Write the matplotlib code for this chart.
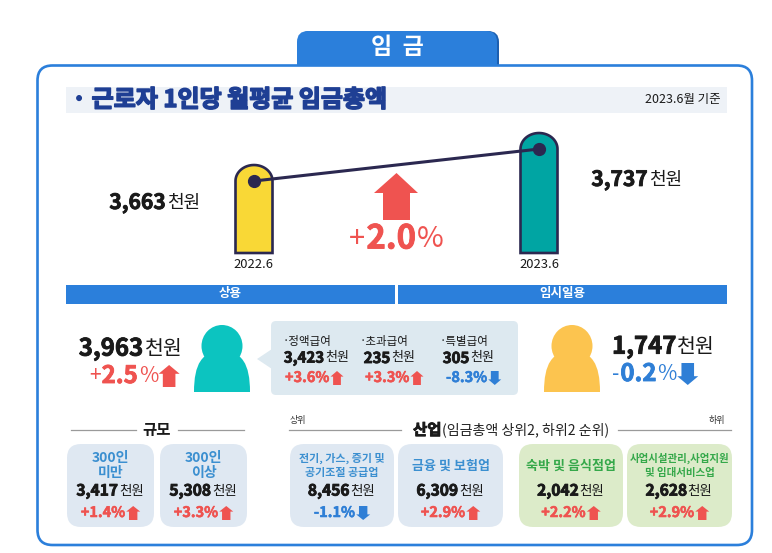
import matplotlib
matplotlib.use("Agg")
import matplotlib.pyplot as plt
import matplotlib.patheffects as pe
import numpy as np
from matplotlib.patches import FancyBboxPatch, Rectangle, Ellipse, Polygon, PathPatch
from matplotlib.path import Path

plt.rcParams['font.family'] = ['Noto Sans CJK KR', 'DejaVu Sans']

# values
years = ["2022.6", "2023.6"]
total_wage = [3663, 3737]
total_change = 2.0

regular_wage = 3963
regular_change = 2.5
temp_wage = 1747
temp_change = -0.2

pay_names = ["정액급여", "초과급여", "특별급여"]
pay_values = [3423, 235, 305]
pay_changes = [3.6, 3.3, -8.3]

card_titles = [["300인", "미만"], ["300인", "이상"],
               ["전기, 가스, 증기 및", "공기조절 공급업"], ["금융 및 보험업"],
               ["숙박 및 음식점업"], ["사업시설관리,사업지원", "및 임대서비스업"]]
card_values = [3417, 5308, 8456, 6309, 2042, 2628]
card_changes = [1.4, 3.3, -1.1, 2.9, 2.2, 2.9]

BLUE = "#2b7fdb"
NAVY = "#1f3f94"
RED = "#ef5350"
DOWN = "#2f7fd6"
DARK = "#2b2850"
INK = "#1a1a1a"
W, H = 772, 553

fig = plt.figure(figsize=(W / 100, H / 100), dpi=100)
ax = fig.add_axes([0, 0, 1, 1])
ax.set_xlim(0, W)
ax.set_ylim(H, 0)
ax.axis("off")
renderer = fig.canvas.get_renderer()


def px(size):
    # font size given in pixels
    return size * 0.72


def heavy(t, color, width=0.6):
    # thicken bold text, the original uses a black weight
    t.set_path_effects([pe.withStroke(linewidth=width, foreground=color)])


def rich(x, y, parts, ha="left"):
    # text pieces in a row: (string, pixel size, bold, colour)
    items = []
    total = 0
    for s, size, bold, color in parts:
        t = ax.text(0, y, s, fontsize=px(size), color=color, va="center", ha="left",
                    fontweight="bold" if bold else "normal")
        w = t.get_window_extent(renderer).width + 1
        if bold:
            heavy(t, color)
        items.append((t, w))
        total += w
    if ha == "center":
        x -= total / 2
    elif ha == "right":
        x -= total
    for t, w in items:
        t.set_x(x)
        x += w
    return x


def box(x0, y0, x1, y1, r, **kw):
    p = FancyBboxPatch((x0, y0), x1 - x0, y1 - y0,
                       boxstyle="round,pad=0,rounding_size=%s" % r, **kw)
    ax.add_patch(p)


def arrow(x, y, w, h, color, up=True):
    # block arrow centred on x,y
    s = -1 if up else 1
    hw = w / 2
    sw = w * 0.3
    neck = h * 0.1
    pts = [(x, y + s * h / 2), (x + hw, y + s * neck), (x + sw, y + s * neck),
           (x + sw, y - s * h / 2), (x - sw, y - s * h / 2), (x - sw, y + s * neck),
           (x - hw, y + s * neck)]
    ax.add_patch(Polygon(pts, closed=True, fc=color, ec="none"))


def person(cx, top, bottom, color):
    ax.add_patch(Ellipse((cx, top + 21), 41, 42, fc=color, ec="none"))
    hw = 28
    verts = [(cx - hw, bottom), (cx - hw, bottom - 28), (cx - 20, bottom - 41), (cx, bottom - 41),
             (cx + 20, bottom - 41), (cx + hw, bottom - 28), (cx + hw, bottom), (cx - hw, bottom)]
    codes = [Path.MOVETO, Path.CURVE4, Path.CURVE4, Path.CURVE4,
             Path.CURVE4, Path.CURVE4, Path.CURVE4, Path.CLOSEPOLY]
    ax.add_patch(PathPatch(Path(verts, codes), fc=color, ec="none"))


def change_row(x, y, val, size, aw, ah, ha="center", gap=1):
    # bold percentage followed by its arrow
    color = RED if val > 0 else DOWN
    s = "%+.1f%%" % val
    t = ax.text(0, y, s, fontsize=px(size), fontweight="bold", color=color, va="center")
    heavy(t, color, 0.4)
    w = t.get_window_extent(renderer).width
    left = x - (w + aw + gap) / 2 if ha == "center" else x
    t.set_x(left)
    arrow(left + w + gap + aw / 2, y, aw, ah, color, up=val > 0)


# header tab and frame
box(299, 31, 499, 80, 11, fc="#1c5fb0", ec="none")
box(297, 31, 497, 80, 11, fc=BLUE, ec="none")
box(37.5, 65.5, 752, 545, 15, fc="white", ec=BLUE, lw=1.9)
ax.text(397, 47, "임  금", fontsize=px(23), fontweight="bold", color="white", ha="center", va="center")

# title band
ax.add_patch(Rectangle((66, 87), 661, 26, fc="#eef2f7", ec="none"))
title = ax.text(72, 100, "· 근로자 1인당 월평균 임금총액", fontsize=px(24), fontweight="bold",
                color=NAVY, va="center")
heavy(title, NAVY, 1.1)
ax.text(721, 100, "2023.6월 기준", fontsize=px(12.5), color=INK, va="center", ha="right")

# bar chart: axes with cut-off value scale, 32 px for the 74 difference
floor = 3496.5
top_val = 3781.0
chart = fig.add_axes([200 / W, 1 - 253 / H, 400 / W, 123 / H])
chart.patch.set_alpha(0)
chart.axis("off")
chart.set_xlim((200 - 254) / 285, (600 - 254) / 285)
chart.set_ylim(floor, top_val)
x_per_px = 1 / 285
y_per_px = (top_val - floor) / 123
t = np.linspace(np.pi, 0, 40)
bar_colors = ["#f9d836", "#00a5a3"]
for i, v in enumerate(total_wage):
    xs = i + 18.5 * x_per_px * np.cos(t)
    ys = v + 16 * y_per_px * np.sin(t)
    xs = np.r_[i - 18.5 * x_per_px, xs, i + 18.5 * x_per_px]
    ys = np.r_[floor, ys, floor]
    chart.fill(xs, ys, fc=bar_colors[i], ec=DARK, lw=1.9, clip_on=False, joinstyle="miter")
chart.plot(range(len(total_wage)), total_wage, color=DARK, lw=2.2, marker="o", ms=8.5,
           mfc=DARK, mec=DARK, clip_on=False)

for i, x in enumerate([253, 539]):
    ax.text(x, 264, years[i], fontsize=px(13), color=INK, ha="center", va="center")
rich(155, 203, [("{:,}".format(total_wage[0]), 21, True, INK), ("천원", 18, False, INK)], ha="center")
rich(637, 180, [("{:,}".format(total_wage[1]), 21, True, INK), ("천원", 18, False, INK)], ha="center")

ax.add_patch(Polygon([(396.5, 173), (418, 193), (410, 193), (410, 220), (383, 220), (383, 193), (374, 193)],
                     closed=True, fc=RED, ec="none"))
rich(397, 239, [("+", 29, False, RED), ("%.1f" % total_change, 33, True, RED), ("%", 29, False, RED)], ha="center")

# section bands
ax.add_patch(Rectangle((66, 285), 329, 19, fc=BLUE, ec="none"))
ax.add_patch(Rectangle((398, 285), 329, 19, fc=BLUE, ec="none"))
ax.text(230, 294, "상용", fontsize=px(12.5), fontweight="bold", color="white", ha="center", va="center")
ax.text(562, 294, "임시일용", fontsize=px(12.5), fontweight="bold", color="white", ha="center", va="center")

# regular workers
rich(131, 349, [("{:,}".format(regular_wage), 24, True, INK), ("천원", 20.5, False, INK)], ha="center")
end = rich(89, 376, [("+", 21, False, RED), ("%.1f" % regular_change, 24, True, RED), ("%", 21, False, RED)])
arrow(end + 10, 376, 21, 22, RED)
person(222, 325, 392, "#0cc4c0")

# callout with pay parts
box(271, 321, 518, 395, 5, fc="#dde9f0", ec="none")
ax.add_patch(Polygon([(272, 349), (257, 359), (272, 369)], closed=True, fc="#dde9f0", ec="none"))
pay_label_x = [283, 360, 440]
pay_center_x = [317, 390, 469]
pay_pct_x = [285, 365, 446]
for i in range(3):
    ax.text(pay_label_x[i], 341, "·" + pay_names[i], fontsize=px(11.5), color=INK, va="center")
    rich(pay_center_x[i], 358, [("{:,}".format(pay_values[i]), 15, True, INK), ("천원", 13, False, INK)], ha="center")
    change_row(pay_pct_x[i], 378, pay_changes[i], 14.5, 13, 14, ha="left")

# temporary workers
person(572, 325, 392, "#fcc44f")
rich(612, 347, [("{:,}".format(temp_wage), 24, True, INK), ("천원", 20.5, False, INK)])
end = rich(612, 374, [("-", 21, False, DOWN), ("%.1f" % abs(temp_change), 24, True, DOWN), ("%", 21, False, DOWN)])
arrow(end + 10, 374, 21, 22, DOWN, up=False)

# group headings
line_col = "#9a9a9a"
for x0, x1 in [(71, 136), (178, 244), (289, 401), (618, 731)]:
    ax.plot([x0, x1], [430, 430], color=line_col, lw=0.9)
ax.text(157, 430, "규모", fontsize=px(15.5), fontweight="bold", color=INK, ha="center", va="center")
ax.text(290, 421, "상위", fontsize=px(9), color="#333333", va="center")
ax.text(725, 421, "하위", fontsize=px(9), color="#333333", va="center", ha="right")
rich(413, 430, [("산업", 15.5, True, INK), ("(임금총액 상위2, 하위2 순위)", 14, False, "#222222")])

# cards
card_x = [(67, 154), (160, 247), (290, 394), (398, 503), (519, 623), (627, 732)]
card_title_size = [14, 14, 11, 13, 13, 10.5]
for i, (x0, x1) in enumerate(card_x):
    green = i >= 4
    box(x0, 444, x1, 527, 14, fc="#dcebc9" if green else "#dfe8f2", ec="none")
    cx = (x0 + x1) / 2
    lines = card_titles[i]
    tcol = "#35a84a" if green else "#3b8fd0"
    if len(lines) == 2:
        y_lines = [458, 473]
    else:
        y_lines = [466]
    for line, y in zip(lines, y_lines):
        ax.text(cx, y, line, fontsize=px(card_title_size[i]), fontweight="bold", color=tcol,
                ha="center", va="center")
    rich(cx, 491, [("{:,}".format(card_values[i]), 15.5, True, INK), ("천원", 13.5, False, INK)], ha="center")
    change_row(cx, 513, card_changes[i], 14.5, 14, 14)

fig.savefig("out.png", dpi=100)
